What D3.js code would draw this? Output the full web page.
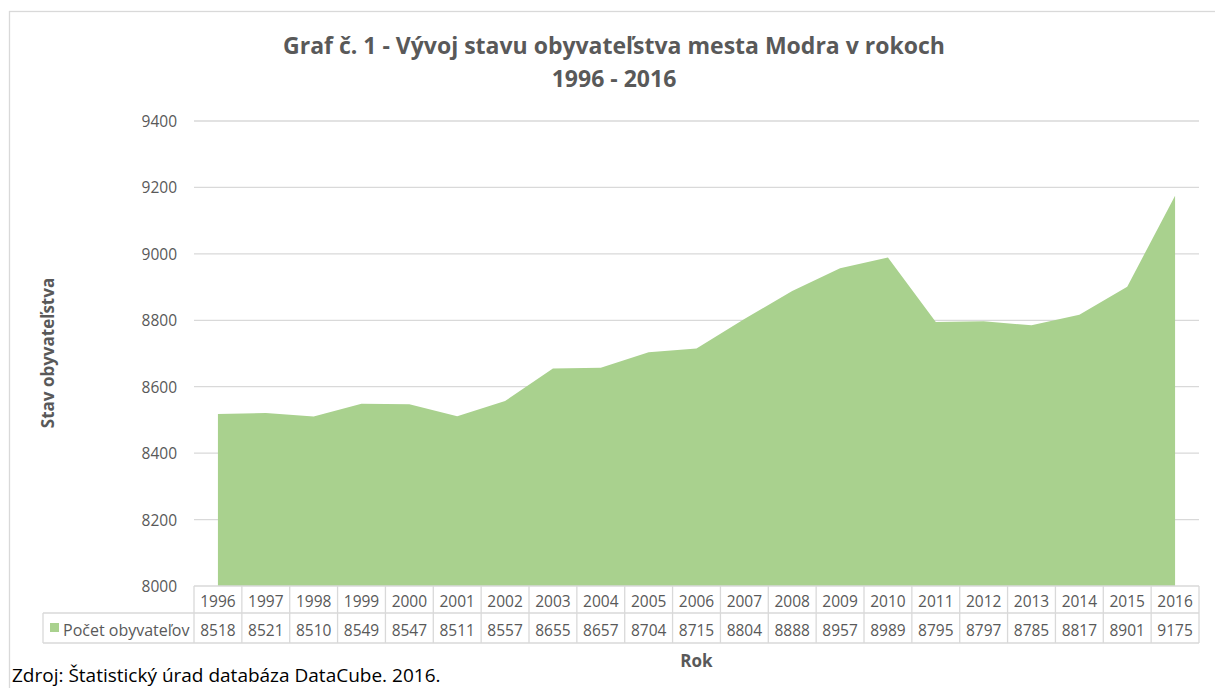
<!DOCTYPE html>
<html>
<head>
<meta charset="utf-8">
<script src="https://cdn.jsdelivr.net/npm/d3@7"></script>
<style>
  html, body { margin: 0; padding: 0; background: #fff; }
  svg { display: block; }
</style>
</head>
<body>
<svg id="chart" width="1215" height="688"></svg>
<script>
const years = ["1996","1997","1998","1999","2000","2001","2002","2003","2004","2005","2006","2007","2008","2009","2010","2011","2012","2013","2014","2015","2016"];
const population = [8518,8521,8510,8549,8547,8511,8557,8655,8657,8704,8715,8804,8888,8957,8989,8795,8797,8785,8817,8901,9175];
const yTicks = [8000,8200,8400,8600,8800,9000,9200,9400];
const seriesName = "Počet obyvateľov";
const titleLines = ["Graf č. 1 - Vývoj stavu obyvateľstva mesta Modra v rokoch", "1996 - 2016"];
const yTitle = "Stav obyvateľstva";
const xTitle = "Rok";
const source = "Zdroj: Štatistický úrad databáza DataCube. 2016.";

const W = 1215, H = 688;
const font = "'Open Sans', 'Noto Sans', sans-serif";
const textGray = "#595959";
const gridGray = "#d9d9d9";
const fillGreen = "#a9d18e";

const plot = { left: 194, right: 1199, top: 121, bottom: 586 };

const svg = d3.select("#chart");

// outer chart border
svg.append("rect")
  .attr("x", 9.5).attr("y", 11.5)
  .attr("width", W + 10).attr("height", H + 10)
  .attr("fill", "#fff").attr("stroke", gridGray).attr("stroke-width", 1.3);

const x = d3.scaleBand().domain(years).range([plot.left, plot.right]).padding(0);
const y = d3.scaleLinear().domain([8000, 9400]).range([plot.bottom, plot.top]);

// gridlines
svg.append("g").selectAll("line").data(yTicks.filter(t => t > 8000)).join("line")
  .attr("x1", plot.left).attr("x2", plot.right)
  .attr("y1", d => y(d)).attr("y2", d => y(d))
  .attr("stroke", gridGray).attr("stroke-width", 1.3);

// area
const area = d3.area()
  .x((d, i) => x(years[i]) + x.bandwidth() / 2)
  .y0(y(8000))
  .y1(d => y(d));
svg.append("path").datum(population)
  .attr("d", area)
  .attr("fill", fillGreen);

// y axis labels
const yAxis = d3.axisLeft(y).tickValues(yTicks).tickSize(0).tickPadding(0).tickFormat(d3.format("d"));
const yg = svg.append("g").attr("transform", `translate(${plot.left - 17},0)`).call(yAxis);
yg.select(".domain").remove();
yg.selectAll("text").attr("font-family", font).attr("font-size", 15.5).attr("fill", textGray).attr("dy", "0.35em");

// data table
const rowTop = plot.bottom, rowMid = 613, rowBot = 643;
const legendLeft = 43;
const tg = svg.append("g");
const lineAttr = sel => sel.attr("stroke", gridGray).attr("stroke-width", 1.3);
lineAttr(tg.append("line").attr("x1", plot.left).attr("x2", plot.right).attr("y1", rowTop).attr("y2", rowTop));
lineAttr(tg.append("line").attr("x1", legendLeft).attr("x2", plot.right).attr("y1", rowMid).attr("y2", rowMid));
lineAttr(tg.append("line").attr("x1", legendLeft).attr("x2", plot.right).attr("y1", rowBot).attr("y2", rowBot));
lineAttr(tg.append("line").attr("x1", legendLeft).attr("x2", legendLeft).attr("y1", rowMid).attr("y2", rowBot));
const colEdges = years.map(d => x(d)).concat([plot.right]);
tg.selectAll("line.v").data(colEdges).join("line").attr("class", "v")
  .attr("x1", d => d).attr("x2", d => d).attr("y1", rowTop).attr("y2", rowBot)
  .call(lineAttr);
tg.selectAll("text.yr").data(years).join("text").attr("class", "yr")
  .attr("x", d => x(d) + x.bandwidth() / 2).attr("y", 607)
  .attr("text-anchor", "middle").attr("font-family", font).attr("font-size", 15.5).attr("fill", textGray)
  .text(d => d);
tg.selectAll("text.val").data(population).join("text").attr("class", "val")
  .attr("x", (d, i) => x(years[i]) + x.bandwidth() / 2).attr("y", 636)
  .attr("text-anchor", "middle").attr("font-family", font).attr("font-size", 15.5).attr("fill", textGray)
  .text(d => d);
tg.append("rect").attr("x", 50).attr("y", 623).attr("width", 9).attr("height", 9).attr("fill", fillGreen);
tg.append("text").attr("x", 63).attr("y", 636)
  .attr("font-family", font).attr("font-size", 16).attr("fill", textGray).text(seriesName);

// title
svg.append("g").selectAll("text").data(titleLines).join("text")
  .attr("x", 614).attr("y", (d, i) => 54 + i * 33)
  .attr("text-anchor", "middle").attr("font-family", font).attr("font-weight", "bold")
  .attr("font-size", 23).attr("fill", textGray)
  .text(d => d);

// axis titles
svg.append("text")
  .attr("transform", `translate(54,353) rotate(-90)`)
  .attr("text-anchor", "middle").attr("font-family", font).attr("font-weight", "bold")
  .attr("font-size", 17).attr("fill", textGray).text(yTitle);
svg.append("text")
  .attr("x", (plot.left + plot.right) / 2).attr("y", 667)
  .attr("text-anchor", "middle").attr("font-family", font).attr("font-weight", "bold")
  .attr("font-size", 17).attr("fill", textGray).text(xTitle);

// source
svg.append("text").attr("x", 12).attr("y", 682)
  .attr("font-family", font).attr("font-size", 19).attr("fill", "#000").text(source);
</script>
</body>
</html>
